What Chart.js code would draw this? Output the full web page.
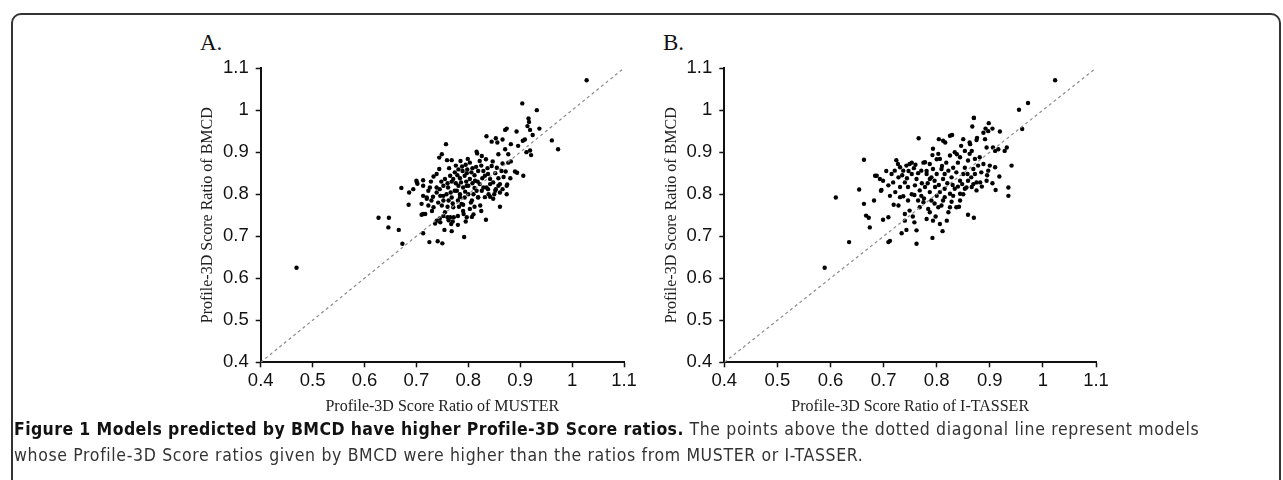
<!DOCTYPE html>
<html>
<head>
<meta charset="utf-8">
<script src="https://cdn.jsdelivr.net/npm/chart.js@4.4.0/dist/chart.umd.min.js"></script>
<style>
  body { margin: 0; background: #fff; width: 1283px; height: 480px; overflow: hidden; position: relative; }
  .frame { position: absolute; left: 11px; top: 13px; right: 2px; height: 600px; border: 2px solid #333; border-radius: 10px; box-sizing: border-box; }
  .panel { position: absolute; }
  .tag { position: absolute; font-family: "Liberation Serif", serif; font-size: 23px; color: #111; }
  .caption { position: absolute; left: 14px; top: 416px; width: 1262px; white-space: nowrap; font-family: "DejaVu Sans", sans-serif; font-stretch: condensed; font-size: 17.5px; letter-spacing: 0.65px; line-height: 26px; color: #333; }
  .caption b { color: #111; letter-spacing: 0.4px; }
</style>
</head>
<body>
<div class="frame"></div>
<div class="tag" style="left:200px; top:30px;">A.</div>
<div class="tag" style="left:663px; top:30px;">B.</div>
<canvas id="chartA" class="panel" width="490" height="370" style="left:150px; top:50px;"></canvas>
<canvas id="chartB" class="panel" width="500" height="370" style="left:614px; top:50px;"></canvas>
<div class="caption"><b>Figure 1 Models predicted by BMCD have higher Profile-3D Score ratios.</b> The points above the dotted diagonal line represent models<br>whose Profile-3D Score ratios given by BMCD were higher than the ratios from MUSTER or I-TASSER.</div>
<script>
// axis ticks shared by both panels
const tickValues = [0.4, 0.5, 0.6, 0.7, 0.8, 0.9, 1.0, 1.1];
const diagonal = [[0.4, 0.4], [1.1, 1.1]];

// [MUSTER ratio, BMCD ratio]
const pointsMuster = [
  [0.469,0.625],[0.627,0.744],[0.647,0.744],[0.646,0.721],[0.666,0.715],[0.673,0.682],[0.671,0.815],[0.685,0.775],
  [0.694,0.812],[0.686,0.804],[0.713,0.707],[0.725,0.686],[0.741,0.688],[0.750,0.683],[0.754,0.715],[0.768,0.712],
  [0.792,0.698],[0.834,0.739],[0.861,0.770],[0.875,0.823],[0.710,0.751],[0.736,0.730],[0.745,0.742],[0.752,0.748],
  [0.760,0.745],[0.770,0.735],[0.772,0.745],[0.780,0.748],[0.790,0.760],[0.797,0.745],[0.810,0.752],[0.782,0.770],
  [0.790,0.775],[0.805,0.780],
  [1.028,1.071],[0.904,1.016],[0.932,1.000],[0.916,0.980],[0.917,0.972],[0.914,0.962],[0.919,0.953],[0.937,0.956],
  [0.874,0.956],[0.871,0.953],[0.893,0.949],[0.835,0.938],[0.845,0.925],[0.853,0.933],[0.856,0.923],[0.866,0.930],
  [0.909,0.930],[0.905,0.927],[0.924,0.941],[0.961,0.928],[0.973,0.907],[0.919,0.904],[0.921,0.893],[0.912,0.900],
  [0.896,0.915],[0.882,0.919],[0.871,0.907],[0.877,0.895],[0.858,0.895],[0.757,0.919],[0.749,0.895],[0.744,0.887],
  [0.759,0.881],[0.768,0.881],[0.816,0.901],[0.817,0.897],[0.826,0.891],[0.822,0.879],[0.834,0.883],[0.845,0.867],
  [0.855,0.863],[0.866,0.873],[0.877,0.875],[0.882,0.878],[0.864,0.855],[0.872,0.854],[0.890,0.854],[0.894,0.851],
  [0.906,0.844],
  [0.785,0.879],[0.795,0.870],[0.803,0.875],[0.798,0.859],[0.789,0.855],[0.781,0.859],[0.774,0.852],[0.765,0.844],
  [0.755,0.836],[0.771,0.836],[0.784,0.838],[0.793,0.844],[0.806,0.852],[0.815,0.865],[0.819,0.855],[0.829,0.855],
  [0.832,0.844],[0.842,0.836],[0.848,0.828],[0.858,0.838],[0.861,0.824],[0.874,0.820],[0.853,0.812],[0.835,0.816],
  [0.822,0.824],[0.813,0.832],[0.803,0.836],[0.800,0.820],[0.790,0.816],[0.781,0.820],[0.774,0.808],[0.761,0.816],
  [0.752,0.820],[0.739,0.848],[0.713,0.833],[0.700,0.832],[0.702,0.825],[0.726,0.816],[0.739,0.804],[0.720,0.792],
  [0.732,0.794],[0.752,0.796],[0.768,0.792],[0.784,0.800],[0.793,0.792],[0.810,0.800],[0.819,0.792],[0.842,0.794],
  [0.874,0.800],
  [0.701,0.828],[0.713,0.820],[0.723,0.808],[0.713,0.796],[0.720,0.789],[0.710,0.777],[0.713,0.753],[0.717,0.753],
  [0.729,0.785],[0.733,0.769],[0.739,0.816],[0.746,0.796],[0.749,0.773],[0.755,0.757],[0.758,0.800],[0.762,0.785],
  [0.765,0.745],[0.771,0.769],[0.778,0.808],[0.784,0.793],[0.787,0.777],[0.791,0.753],[0.797,0.820],[0.800,0.800],
  [0.803,0.765],[0.807,0.785],[0.816,0.808],[0.819,0.793],[0.823,0.773],[0.829,0.816],[0.832,0.793],[0.839,0.800],
  [0.842,0.824],[0.848,0.789],[0.852,0.808],[0.858,0.820],[0.861,0.804],[0.739,0.737],[0.746,0.733],[0.767,0.729],
  [0.763,0.862],[0.776,0.868],[0.788,0.866],[0.799,0.884],[0.808,0.862],[0.812,0.845],[0.825,0.868],[0.837,0.862],
  [0.838,0.848],[0.827,0.838],[0.818,0.830],[0.808,0.826],[0.796,0.830],[0.786,0.828],[0.776,0.826],[0.768,0.830],
  [0.760,0.826],[0.748,0.830],[0.744,0.860],[0.733,0.842],[0.728,0.830],[0.745,0.812],[0.766,0.804],[0.779,0.845],
  [0.797,0.850],[0.852,0.850],[0.847,0.878],[0.868,0.841],[0.881,0.838],[0.850,0.800],[0.866,0.812],[0.838,0.812],
  [0.826,0.808],[0.812,0.815],[0.794,0.806],[0.780,0.785],[0.770,0.778],[0.760,0.770],[0.812,0.770],[0.825,0.760],
  [0.795,0.735],[0.807,0.746],[0.780,0.727],[0.762,0.738],[0.730,0.760],[0.723,0.773],[0.742,0.780],[0.752,0.785]
];

// [I-TASSER ratio, BMCD ratio]
const pointsItasser = [
  [0.589,0.625],[0.635,0.686],[0.610,0.792],[0.654,0.811],[0.663,0.882],[0.663,0.777],[0.667,0.749],[0.672,0.744],
  [0.674,0.721],[0.682,0.785],[0.695,0.808],[0.699,0.739],[0.709,0.686],[0.712,0.689],[0.709,0.745],[0.712,0.796],
  [0.719,0.775],[0.728,0.773],[0.731,0.793],[0.734,0.707],[0.740,0.753],[0.743,0.715],[0.740,0.737],[0.749,0.761],
  [0.755,0.747],[0.758,0.733],[0.762,0.682],[0.762,0.714],[0.765,0.785],[0.768,0.769],[0.775,0.781],[0.781,0.741],
  [0.784,0.765],[0.787,0.757],[0.792,0.696],[0.793,0.737],[0.798,0.747],[0.803,0.769],[0.806,0.729],[0.809,0.773],
  [0.811,0.712],[0.819,0.737],[0.822,0.757],[0.825,0.769],[0.837,0.769],[0.844,0.785],[0.859,0.751],[0.870,0.744],
  [0.911,0.810],[0.935,0.816],[0.935,0.796],[0.746,0.785],[0.753,0.800],[0.771,0.796],[0.790,0.785],[0.800,0.796],
  [0.815,0.793],[0.831,0.796],[0.850,0.800],[0.856,0.816],[0.869,0.824],[0.882,0.828],
  [1.023,1.071],[0.972,1.017],[0.955,1.001],[0.961,0.955],[0.870,0.981],[0.867,0.961],[0.898,0.969],[0.892,0.956],
  [0.905,0.956],[0.919,0.949],[0.876,0.934],[0.875,0.929],[0.862,0.923],[0.850,0.931],[0.829,0.941],[0.825,0.939],
  [0.804,0.931],[0.812,0.927],[0.766,0.933],[0.891,0.931],[0.894,0.911],[0.906,0.911],[0.916,0.907],[0.932,0.911],
  [0.941,0.868],[0.928,0.903],[0.910,0.903],[0.793,0.908],[0.803,0.896],[0.806,0.884],[0.825,0.892],[0.834,0.900],
  [0.844,0.888],[0.853,0.903],[0.862,0.896],[0.859,0.880],[0.872,0.884],[0.881,0.888],[0.888,0.872],[0.900,0.868],
  [0.910,0.864],[0.897,0.856],[0.884,0.852],[0.878,0.868],[0.869,0.860],
  [0.724,0.881],[0.727,0.872],[0.731,0.864],[0.721,0.856],[0.715,0.848],[0.737,0.856],[0.749,0.872],[0.753,0.848],
  [0.762,0.836],[0.771,0.856],[0.778,0.876],[0.787,0.872],[0.793,0.860],[0.781,0.848],[0.790,0.840],[0.800,0.848],
  [0.809,0.860],[0.815,0.848],[0.822,0.856],[0.828,0.840],[0.837,0.852],[0.844,0.832],[0.850,0.848],[0.859,0.832],
  [0.865,0.840],[0.875,0.828],[0.894,0.832],[0.684,0.844],[0.693,0.836],[0.699,0.832],[0.709,0.821],[0.718,0.828],
  [0.731,0.817],[0.740,0.828],[0.746,0.817],[0.759,0.821],[0.768,0.809],[0.778,0.817],[0.787,0.805],[0.797,0.817],
  [0.806,0.805],[0.815,0.813],[0.825,0.801],[0.834,0.813],[0.844,0.801],[0.853,0.813],[0.866,0.817],[0.875,0.809],
  [0.687,0.844],[0.696,0.810],[0.747,0.855],[0.753,0.875],[0.775,0.875],[0.781,0.855],[0.787,0.836],[0.816,0.923],
  [0.838,0.895],[0.863,0.919],[0.866,0.903],[0.870,0.982],[0.888,0.946],[0.897,0.950],[0.800,0.883],[0.810,0.867],
  [0.831,0.863],[0.840,0.875],[0.853,0.863],
  [0.735,0.845],[0.744,0.838],[0.757,0.862],[0.765,0.850],[0.772,0.826],[0.783,0.826],[0.796,0.832],[0.804,0.822],
  [0.812,0.836],[0.820,0.826],[0.830,0.822],[0.840,0.818],[0.848,0.824],[0.858,0.848],[0.872,0.848],[0.885,0.818],
  [0.895,0.845],[0.905,0.826],[0.918,0.842],[0.722,0.805],[0.737,0.795],[0.758,0.798],[0.776,0.790],[0.796,0.778],
  [0.812,0.785],[0.828,0.782],[0.842,0.770],[0.760,0.870],[0.792,0.893],[0.818,0.875],[0.846,0.915],[0.743,0.868],
  [0.728,0.840],[0.705,0.855]
];

const serif = "'Liberation Serif', 'Times New Roman', serif";
const sans = "'Liberation Sans', Arial, sans-serif";

function toXY(list) {
    return list.map(p => ({ x: p[0], y: p[1] }));
}

function makeChart(id, points, xTitle, yAxisWidth, rightPad) {
    const tickFmt = (v) => String(Number(v.toFixed(1)));
    const axisCommon = {
        type: 'linear',
        min: 0.4,
        max: 1.1,
        afterBuildTicks: (scale) => { scale.ticks = tickValues.map(v => ({ value: v })); },
        grid: { drawOnChartArea: false, drawTicks: true, tickLength: 5, color: '#111', tickWidth: 1.5 },
        border: { display: true, color: '#111', width: 2 },
        ticks: { callback: tickFmt, color: '#111', font: { family: sans, size: 18.5 } }
    };
    return new Chart(document.getElementById(id), {
        type: 'scatter',
        data: {
            datasets: [
                {
                    type: 'line',
                    data: toXY(diagonal),
                    borderColor: '#8a8a8a',
                    borderWidth: 1.2,
                    borderDash: [3, 3],
                    pointRadius: 0,
                    fill: false
                },
                {
                    data: toXY(points),
                    backgroundColor: '#000',
                    borderColor: '#000',
                    pointRadius: 2.2,
                    borderWidth: 0
                }
            ]
        },
        options: {
            responsive: false,
            animation: false,
            layout: { padding: { top: 16.7, right: rightPad, bottom: 0, left: 0 } },
            plugins: { legend: { display: false }, tooltip: { enabled: false } },
            scales: {
                x: Object.assign({}, axisCommon, {
                    ticks: Object.assign({}, axisCommon.ticks, { padding: 3, maxRotation: 0 }),
                    title: { display: true, text: xTitle, color: '#222', font: { family: serif, size: 16 }, padding: { top: 0, bottom: 4 } },
                    afterFit: (scale) => { scale.height = 57.7; }
                }),
                y: Object.assign({}, axisCommon, {
                    ticks: Object.assign({}, axisCommon.ticks, { padding: 7 }),
                    title: { display: true, text: 'Profile-3D Score Ratio of BMCD', color: '#222', font: { family: serif, size: 16 }, padding: { top: 48, bottom: 0 } },
                    afterFit: (scale) => { scale.width = yAxisWidth; }
                })
            }
        }
    });
}

makeChart('chartA', pointsMuster, 'Profile-3D Score Ratio of MUSTER', 110.7, 16);
makeChart('chartB', pointsItasser, 'Profile-3D Score Ratio of I-TASSER', 110.3, 18);
</script>
</body>
</html>
